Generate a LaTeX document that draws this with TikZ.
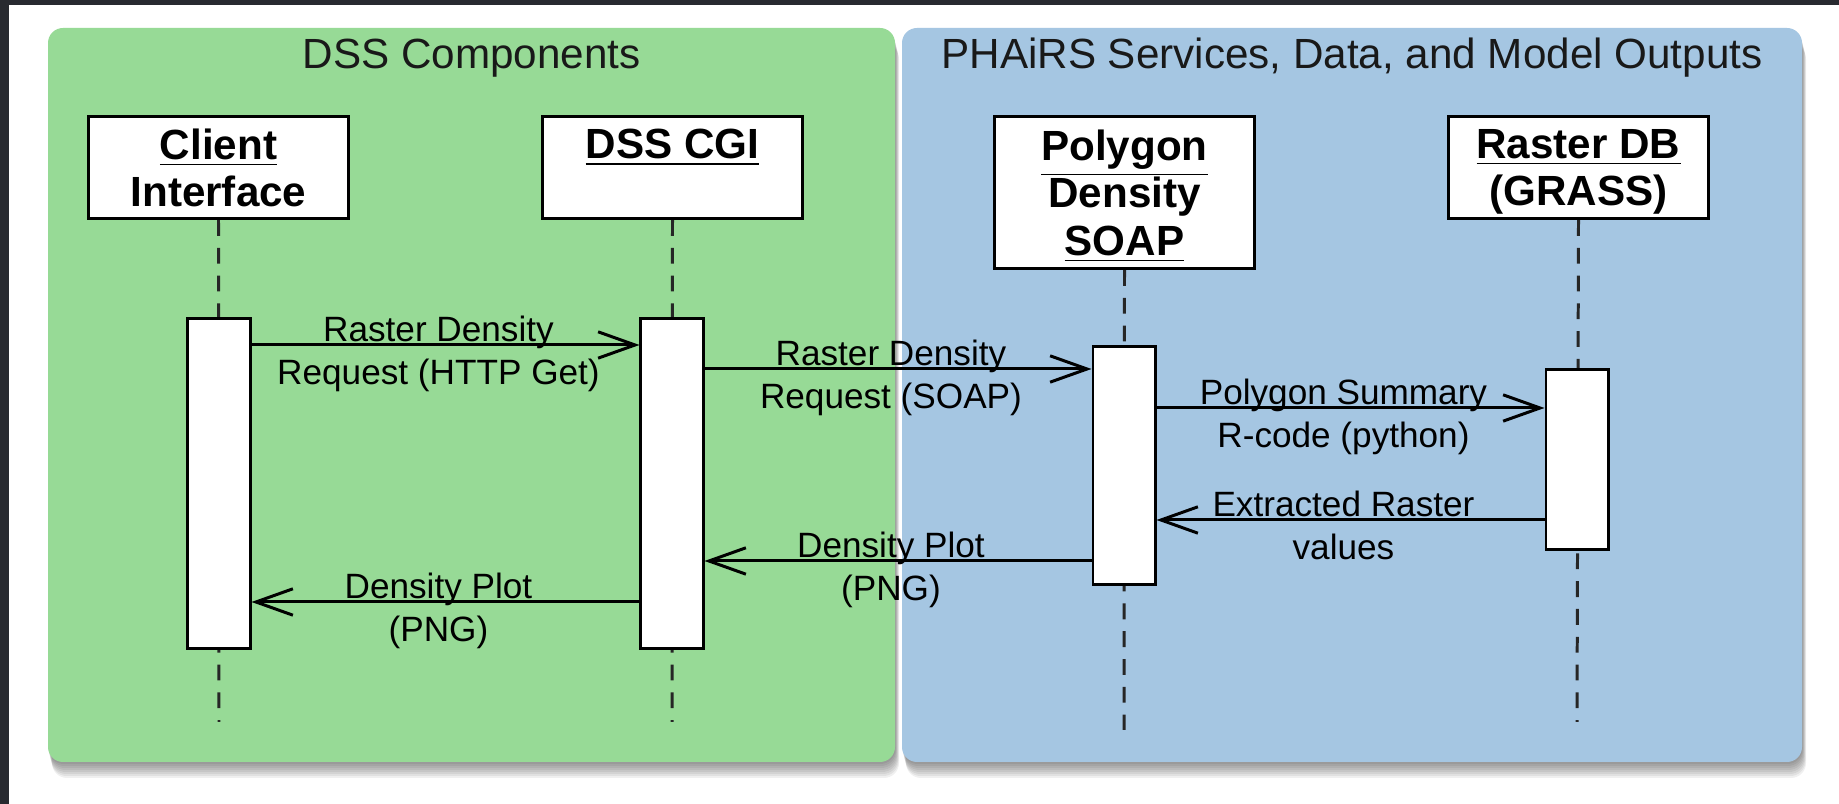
\documentclass[tikz,border=0pt]{standalone}
\usepackage{fontspec}
\setmainfont{Liberation Sans}
\usetikzlibrary{positioning,arrows.meta,calc}

\definecolor{dssgreen}{RGB}{151,218,150}
\definecolor{phblue}{RGB}{165,198,226}
\definecolor{framedark}{RGB}{40,42,48}

\begin{document}
\begin{tikzpicture}[x=0.01cm, y=-0.01cm,
    obj/.style={draw, line width=0.85pt, fill=white, minimum width=2.59cm, minimum height=1.02cm,
        align=center, inner sep=0pt, text depth=0pt, anchor=north, font=\fontsize{12}{13.5}\selectfont\bfseries},
    act/.style={draw, line width=0.85pt, fill=white, minimum width=0.62cm, inner sep=0pt, anchor=north},
    life/.style={dash pattern=on 4.5pt off 3.4pt, line width=0.85pt, black!85},
    msg/.style={line width=0.85pt, -{Straight Barb[length=10.5pt, width=7.5pt, line width=0.85pt]}},
    % base of a two line label is the second line: put the first one just over the arrow
    lbl/.style={font=\fontsize{10}{12.2}\selectfont, align=center, anchor=base, inner sep=0pt,
        xshift=-2pt, yshift=-11.1pt},
    ttl/.style={font=\fontsize{12}{14}\selectfont, anchor=base, text=black!90}]

    % page and dark frame
    \fill[white] (0,0) rectangle (1839,804);
    \fill[framedark] (0,0) rectangle (1839,5);
    \fill[framedark] (0,0) rectangle (9,804);

    % soft shadows under the panels
    \foreach \s in {2,4,...,16} {
        \fill[black, opacity=0.06, rounded corners=0.15cm] (48+\s/4,28+\s) rectangle (895+\s/4,762+\s);
        \fill[black, opacity=0.06, rounded corners=0.15cm] (902+\s/4,28+\s) rectangle (1802+\s/4,762+\s);
    }

    % panels
    \fill[dssgreen, rounded corners=0.15cm] (48,28) rectangle (895,762);
    \fill[phblue, rounded corners=0.15cm] (902,28) rectangle (1802,762);
    \node[ttl] (dsstitle) at (471.5,69) {DSS Components};
    \node[ttl] (phtitle) at (1352,69) {PHAiRS Services, Data, and Model Outputs};

    % objects
    \node[obj] (client) at (218.5,115) {\underline{Client}\\Interface};
    \node[obj] (cgi) at (672.5,115) {\underline{DSS CGI}\\\mbox{}};
    \node[obj, minimum height=1.52cm] (poly) at (1124.5,115) {\underline{Polygon}\\Density\\\underline{SOAP}};
    \node[obj] (raster) at (1578.5,115) {\underline{Raster DB}\\(GRASS)};

    % lifeline ends
    \coordinate (cliend) at (219,722);
    \coordinate (cgiend) at (672,722);
    \coordinate (polyend) at (1124,730);
    \coordinate (rasend) at (1577,722);

    % lifelines
    \draw[life] (client.south) -- (cliend);
    \draw[life] (cgi.south) -- (cgiend);
    \draw[life] (poly.south) -- (polyend);
    \draw[life] (raster.south) -- (rasend);

    % activations
    \node[act, minimum height=3.30cm] (cliact) at (219,317) {};
    \node[act, minimum height=3.30cm] (cgiact) at (672,317) {};
    \node[act, minimum height=2.38cm] (polyact) at (1124,345) {};
    \node[act, minimum height=1.80cm] (rasact) at (1577,368) {};

    % messages
    \draw[msg] (cliact.east |- 0,345) -- node[lbl] {Raster Density\\Request (HTTP Get)} (cgiact.west |- 0,345);
    \draw[msg] (cgiact.east |- 0,369) -- node[lbl] {Raster Density\\Request (SOAP)} (polyact.west |- 0,369);
    \draw[msg] (polyact.east |- 0,408) -- node[lbl] {Polygon Summary\\R-code (python)} (rasact.west |- 0,408);
    \draw[msg] (rasact.west |- 0,520) -- node[lbl] {Extracted Raster\\values} (polyact.east |- 0,520);
    \draw[msg] (polyact.west |- 0,561) -- node[lbl] {Density Plot\\(PNG)} (cgiact.east |- 0,561);
    \draw[msg] (cgiact.west |- 0,602) -- node[lbl] {Density Plot\\(PNG)} (cliact.east |- 0,602);

    \useasboundingbox (0,0) rectangle (1839,804);
\end{tikzpicture}
\end{document}
